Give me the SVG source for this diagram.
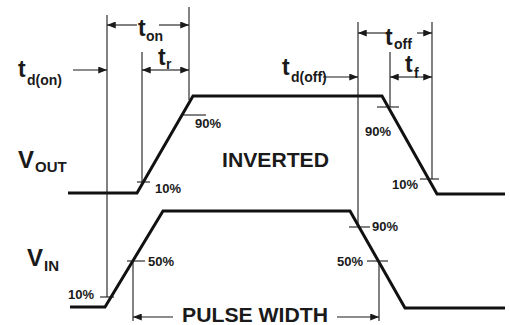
<svg xmlns="http://www.w3.org/2000/svg" width="510" height="325" viewBox="0 0 510 325">
<defs>
<marker id="ah" viewBox="0 0 10 8" refX="10" refY="4" markerWidth="10" markerHeight="7" markerUnits="userSpaceOnUse" orient="auto-start-reverse">
<path d="M0,0 L10,4 L0,8 Z" fill="#1a1a1a"/>
</marker>
<style>
.wave{fill:none;stroke:#111;stroke-width:3;stroke-linejoin:miter}
.thin{fill:none;stroke:#1a1a1a;stroke-width:1.1}
.arr{fill:none;stroke:#1a1a1a;stroke-width:1.1;marker-end:url(#ah)}
.t{font-family:"Liberation Sans",Arial,sans-serif;font-weight:bold;fill:#1a1a1a}
.big{font-size:24px}
.sub{font-size:15px}
.ts{font-size:23px}
.tsub{font-size:14px}
.pct{font-size:13px}
.lab{font-size:20px}
</style>
</defs>
<rect width="510" height="325" fill="#fff"/>
<g id="waveforms">
<polyline id="vout-wave" class="wave" points="68,193 137,193 193,96 382,96 437,194 505,194"/>
<polyline id="vin-wave" class="wave" points="70,307 105,307 163,211 350,211 405,308 505,308"/>
</g>
<g id="connectors">
<line class="thin" x1="107" y1="15" x2="107" y2="297"/>
<line class="thin" x1="142" y1="52" x2="142" y2="185"/>
<line class="thin" x1="189" y1="7" x2="189" y2="100"/>
<line class="thin" x1="358" y1="22" x2="358" y2="227"/>
<line class="thin" x1="390" y1="52" x2="390" y2="107"/>
<line class="thin" x1="432" y1="22" x2="432" y2="179"/>
<line class="thin" x1="133" y1="261" x2="133" y2="321"/>
<line class="thin" x1="379" y1="261" x2="379" y2="321"/>
<line class="thin" x1="181" y1="115" x2="206" y2="115"/>
<line class="thin" x1="137" y1="182" x2="150" y2="182"/>
<line class="thin" x1="377" y1="107" x2="399" y2="107"/>
<line class="thin" x1="420" y1="179" x2="439" y2="179"/>
<line class="thin" x1="100" y1="297" x2="114" y2="297"/>
<line class="thin" x1="127" y1="261" x2="145" y2="261"/>
<line class="thin" x1="349" y1="227" x2="370" y2="227"/>
<line class="thin" x1="367" y1="261" x2="388" y2="261"/>
<line class="arr" x1="137" y1="25" x2="107" y2="25"/>
<line class="arr" x1="159" y1="25" x2="189" y2="25"/>
<line class="arr" x1="160" y1="70" x2="142" y2="70"/>
<line class="arr" x1="160" y1="70" x2="189" y2="70"/>
<line class="arr" x1="73" y1="70" x2="107" y2="70"/>
<line class="arr" x1="385" y1="33" x2="358" y2="33"/>
<line class="arr" x1="417" y1="33" x2="432" y2="33"/>
<line class="arr" x1="410" y1="77" x2="390" y2="77"/>
<line class="arr" x1="410" y1="77" x2="432" y2="77"/>
<line class="arr" x1="323" y1="77" x2="358" y2="77"/>
<line class="arr" x1="173" y1="317" x2="133" y2="317"/>
<line class="arr" x1="337" y1="317" x2="379" y2="317"/>
</g>
<g id="labels">
<text class="t ts" x="138" y="36">t<tspan class="tsub" x="146" y="41">on</tspan></text>
<text class="t ts" x="158" y="65">t<tspan class="tsub" x="166" y="69">r</tspan></text>
<text class="t ts" x="18" y="77">t<tspan class="tsub" x="27" y="85">d(on)</tspan></text>
<text class="t ts" x="282" y="75">t<tspan class="tsub" x="291" y="82">d(off)</tspan></text>
<text class="t ts" x="385" y="45">t<tspan class="tsub" x="394" y="49">off</tspan></text>
<text class="t ts" x="405" y="72">t<tspan class="tsub" x="414" y="78">f</tspan></text>
<text class="t big" x="18" y="168">V<tspan class="sub" x="35" y="172">OUT</tspan></text>
<text class="t big" x="27" y="266">V<tspan class="sub" x="44" y="271">IN</tspan></text>
<text class="t lab" x="222" y="167" textLength="107" lengthAdjust="spacingAndGlyphs">INVERTED</text>
<text class="t lab" x="182" y="322" textLength="146" lengthAdjust="spacingAndGlyphs">PULSE WIDTH</text>
<text class="t pct" x="195" y="128">90%</text>
<text class="t pct" x="155" y="193">10%</text>
<text class="t pct" x="365" y="136">90%</text>
<text class="t pct" x="392" y="189">10%</text>
<text class="t pct" x="148" y="266">50%</text>
<text class="t pct" x="68" y="299">10%</text>
<text class="t pct" x="372" y="231">90%</text>
<text class="t pct" x="337" y="266">50%</text>
</g>
</svg>
